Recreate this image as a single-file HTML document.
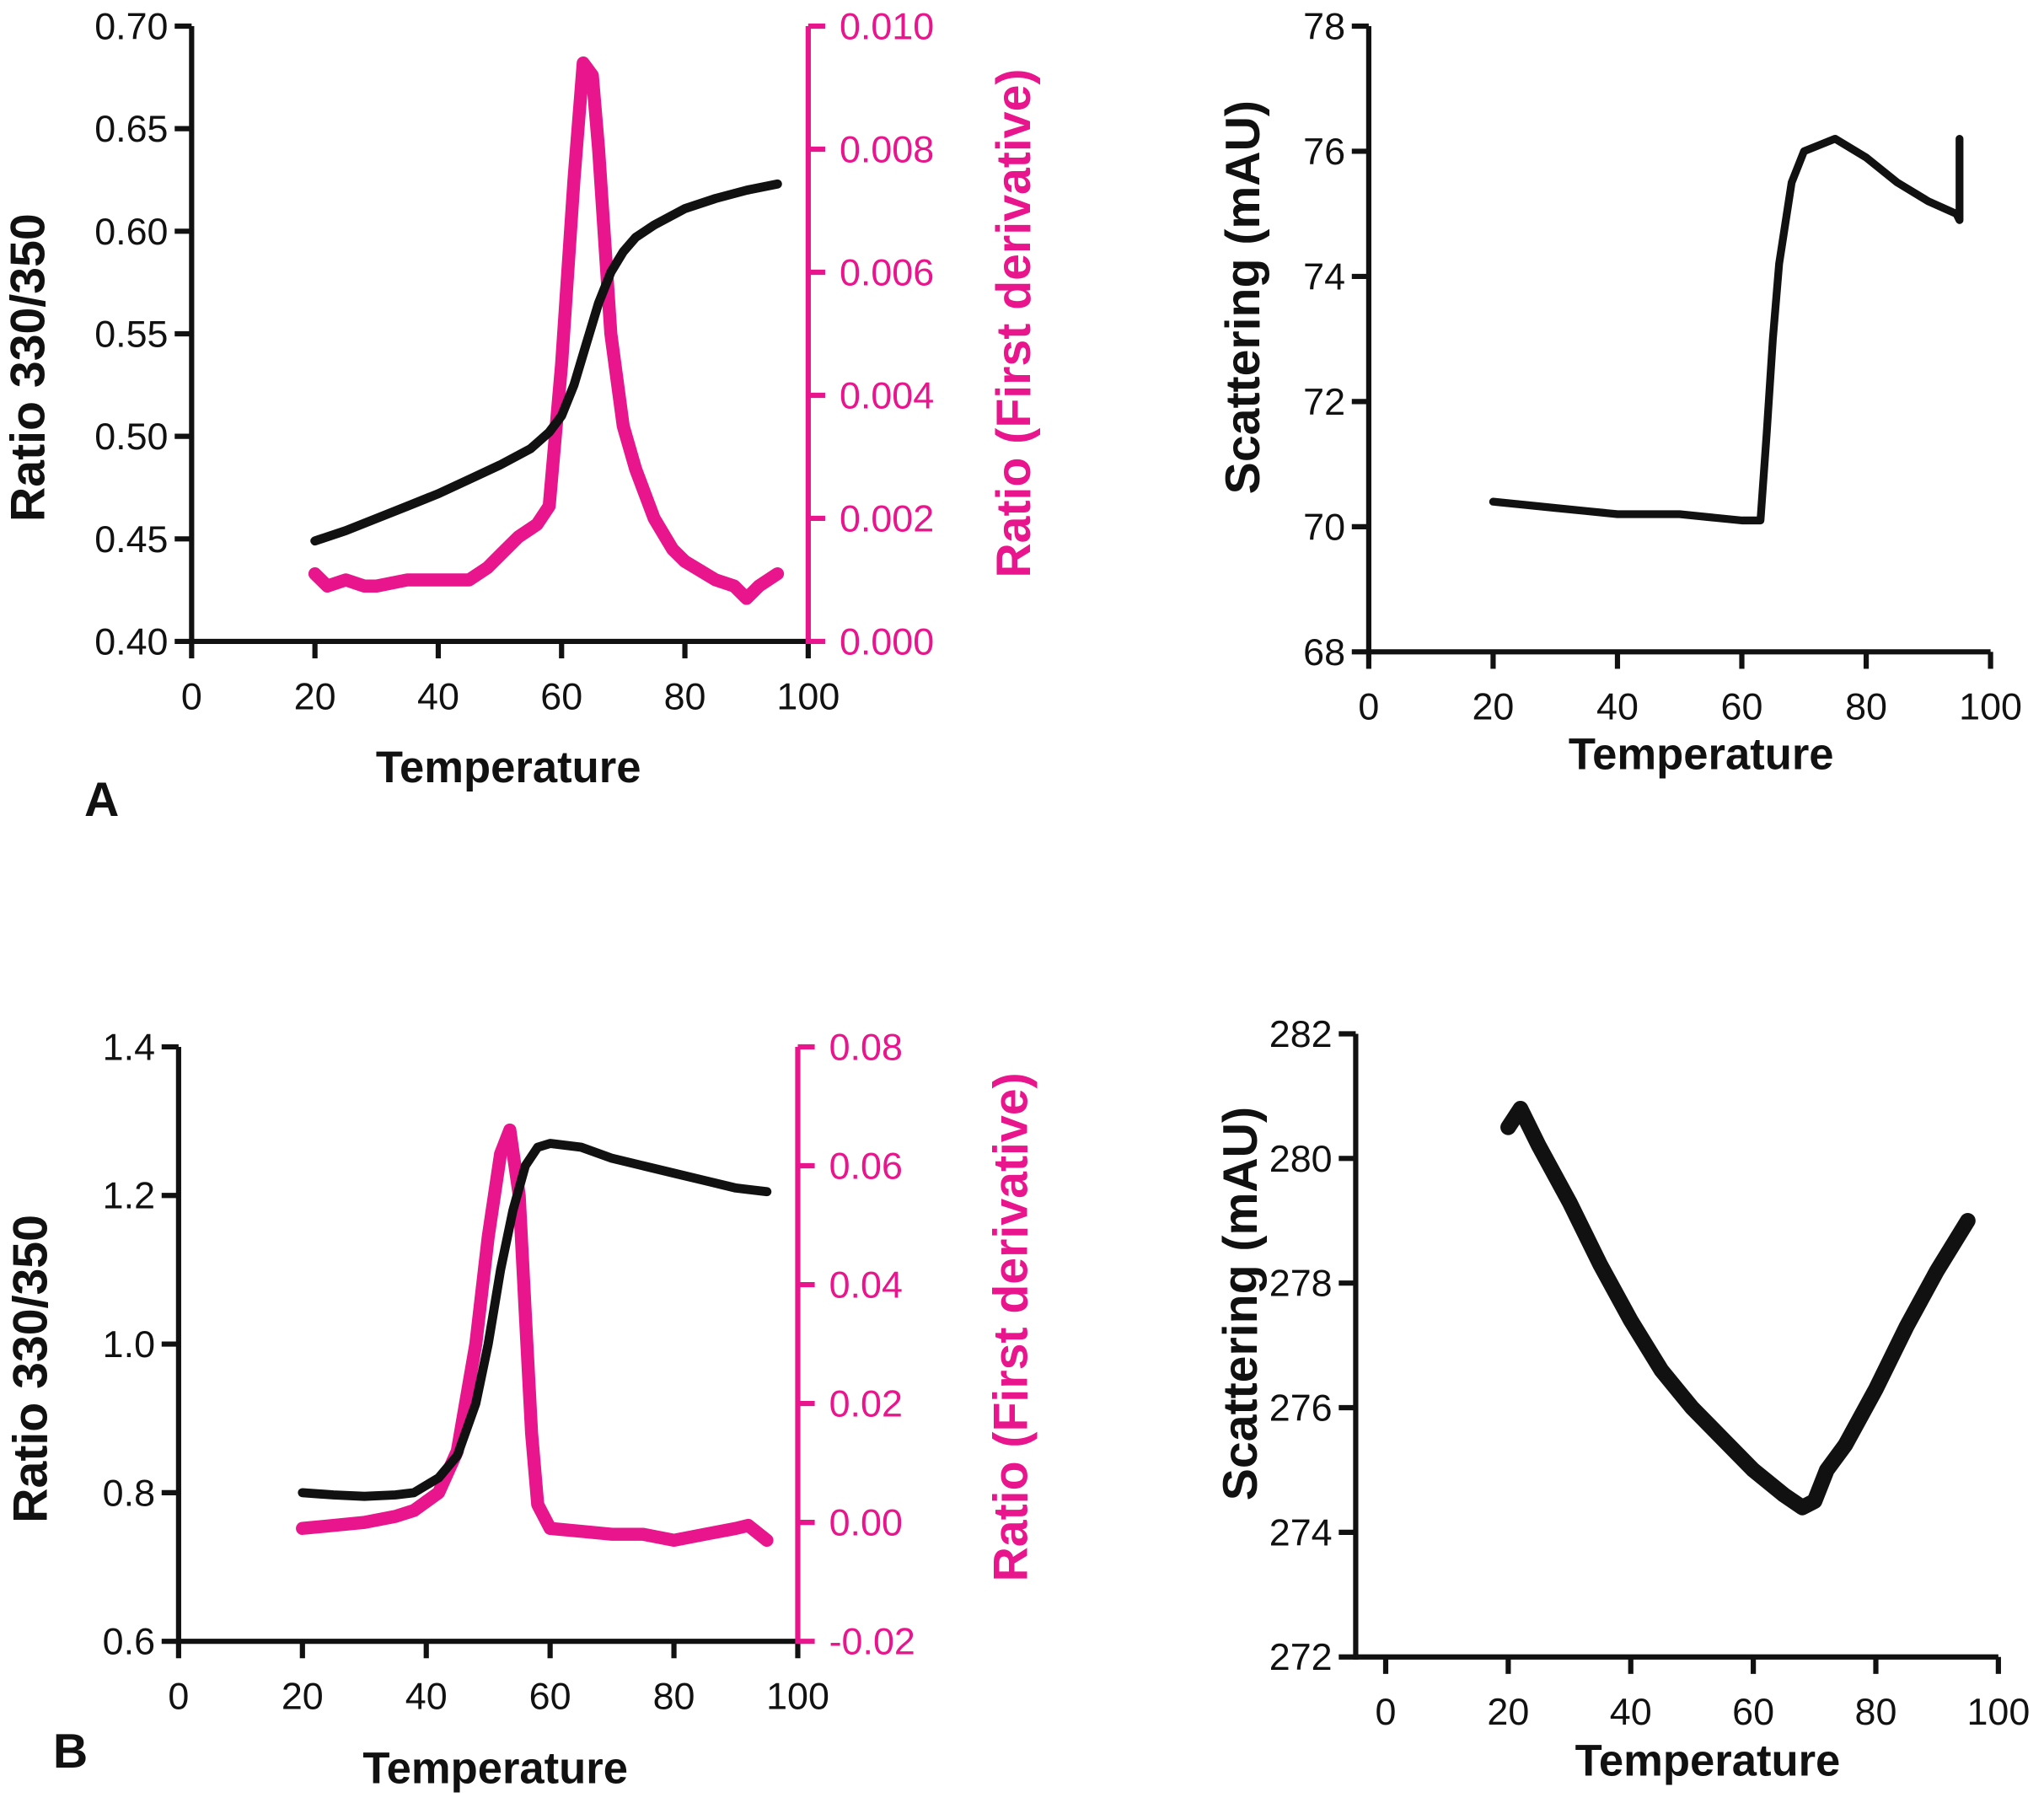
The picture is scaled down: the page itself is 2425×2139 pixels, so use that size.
<!DOCTYPE html>
<html><head><meta charset="utf-8"><style>
html,body{margin:0;padding:0;background:#fff}
svg{display:block}
.tk{font-family:"Liberation Sans Narrow","Liberation Sans",sans-serif;font-size:29px}
.tt{font-family:"Liberation Sans Narrow","Liberation Sans",sans-serif;font-size:34px;font-weight:bold}
.yt{font-family:"Liberation Sans",sans-serif;font-size:37px;font-weight:bold}
</style></head><body>
<svg id="fig" width="2425" height="2139" viewBox="0 0 1568 1383" xmlns="http://www.w3.org/2000/svg"></svg>
<script>
// Panel A, ratio
const aRatioT=[20,25,30,35,40,45,50,55,58,60,62,64,66,68,70,72,75,80,85,90,95];
const aRatioV=[0.449,0.454,0.460,0.466,0.472,0.479,0.486,0.494,0.502,0.510,0.525,0.545,0.565,0.580,0.590,0.597,0.603,0.611,0.616,0.620,0.623];
// Panel A, first derivative
const aDerivT=[20,22,25,28,30,35,40,45,48,50,53,56,58,60,62,63.5,65,66,68,70,72,75,78,80,85,88,90,92,95];
const aDerivV=[0.0011,0.0009,0.0010,0.0009,0.0009,0.0010,0.0010,0.0010,0.0012,0.0014,0.0017,0.0019,0.0022,0.0045,0.0075,0.0094,0.0092,0.0080,0.0050,0.0035,0.0028,0.0020,0.0015,0.0013,0.0010,0.0009,0.0007,0.0009,0.0011];
// Panel A, scattering
const aScatT=[20,25,30,35,40,45,50,55,60,63,64,65,66,68,70,75,80,85,90,94.5,95,95];
const aScatV=[70.4,70.35,70.3,70.25,70.2,70.2,70.2,70.15,70.1,70.1,71.5,73,74.2,75.5,76.0,76.2,75.9,75.5,75.2,75.0,74.9,76.2];
// Panel B, ratio
const bRatioT=[20,25,30,35,38,42,45,48,50,52,54,56,58,60,65,70,75,80,85,90,95];
const bRatioV=[0.800,0.797,0.795,0.797,0.800,0.820,0.850,0.920,1.000,1.100,1.180,1.240,1.265,1.270,1.265,1.250,1.240,1.230,1.220,1.210,1.205];
// Panel B, first derivative
const bDerivT=[20,25,30,35,38,42,45,48,50,52,53.5,55,56,57,58,60,65,70,75,80,85,90,92,95];
const bDerivV=[-0.001,-0.0005,0.0,0.001,0.002,0.005,0.012,0.030,0.048,0.062,0.066,0.055,0.035,0.015,0.003,-0.001,-0.0015,-0.002,-0.002,-0.003,-0.002,-0.001,-0.0005,-0.003];
// Panel B, scattering
const bScatT=[20,22,25,30,35,40,45,50,55,60,65,68,70,72,75,80,85,90,95];
const bScatV=[280.5,280.8,280.2,279.3,278.3,277.4,276.6,276.0,275.5,275.0,274.6,274.4,274.5,275.0,275.4,276.3,277.3,278.2,279.0];
// tick labels
const xTicks=[0,20,40,60,80,100];
const aLeftTicks=[0.40,0.45,0.50,0.55,0.60,0.65,0.70];
const aRightTicks=[0,0.002,0.004,0.006,0.008,0.010];
const aScatTicks=[68,70,72,74,76,78];
const bLeftTicks=[0.6,0.8,1.0,1.2,1.4];
const bRightTicks=[-0.02,0,0.02,0.04,0.06,0.08];
const bScatTicks=[272,274,276,278,280,282];

const NS="http://www.w3.org/2000/svg";
const svg=document.getElementById('fig');
function mk(tag,attrs,parent){const e=document.createElementNS(NS,tag);for(const k in attrs)e.setAttribute(k,attrs[k]);(parent||svg).appendChild(e);return e;}
function lin(d0,d1,r0,r1){return v=>r0+(v-d0)*(r1-r0)/(d1-d0);}
const PINK="#e8158c";

function xAxis(g,sx,y,x0,x1,name){
  const ax=mk('line',{x1:x0,y1:y,x2:x1,y2:y,stroke:'#111','stroke-width':4},g);
  
  
  xTicks.forEach(t=>{
    const tk=mk('line',{x1:sx(t),y1:y,x2:sx(t),y2:y+13,stroke:'#111','stroke-width':4},g);
    
    
    const tl=mk('text',{x:sx(t),y:y+52,'text-anchor':'middle',class:'tk',fill:'#111'},g);
    tl.textContent=String(t);
    
    
  });
}
function yAxis(g,sy,x,ticks,fmt,side,color,name){
  const y0=sy(ticks[0]),y1=sy(ticks[ticks.length-1]);
  const ax=mk('line',{x1:x,y1:y0+2,x2:x,y2:y1,stroke:color,'stroke-width':4},g);
  
  
  ticks.forEach(t=>{
    const dx=side==='left'?-13:13;
    const tk=mk('line',{x1:x,y1:sy(t),x2:x+dx,y2:sy(t),stroke:color,'stroke-width':4},g);
    
    
    const tl=mk('text',{x:side==='left'?x-18:x+24,y:sy(t)+10,'text-anchor':side==='left'?'end':'start',class:'tk',fill:color},g);
    tl.textContent=fmt(t);
    
    
  });
}
function series(g,T,V,sx,sy,color,w,name){
  const d=T.map((t,i)=>(i?'L':'M')+sx(t).toFixed(1)+' '+sy(V[i]).toFixed(1)).join(' ');
  const p=mk('path',{d:d,fill:'none',stroke:color,'stroke-width':w,'stroke-linejoin':'round','stroke-linecap':'round'},g);
  
  
}
function text(g,x,y,s,cls,color,rot,name){
  const t=mk('text',{x:x,y:y,class:cls,fill:color,'text-anchor':'middle'},g);
  if(rot)t.setAttribute('transform','rotate(-90 '+x+' '+y+')');
  t.textContent=s;
  
  
}

// Panel A left
let g=mk('g',{});


let sx=lin(0,100,147,620), sy=lin(0.40,0.70,492,20), sy2=lin(0,0.010,492,20);
series(g,aDerivT,aDerivV,sx,sy2,PINK,10,'first-derivative-line');
series(g,aRatioT,aRatioV,sx,sy,'#111',7,'ratio-line');
xAxis(g,sx,492,147,620,'panel-a');
yAxis(g,sy,147,aLeftTicks,v=>v.toFixed(2),'left','#111','left-y-axis');
yAxis(g,sy2,620,aRightTicks,v=>v.toFixed(3),'right',PINK,'right-y-axis');
text(g,390,600,'Temperature','tt','#111',false,'x-axis-title');
text(g,34,282,'Ratio 330/350','yt','#111',true,'y-axis-title');
text(g,790,248,'Ratio (First derivative)','yt',PINK,true,'y2-axis-title');
text(g,78,626,'A','yt','#111',false,'panel-label-a');

// Panel A right
g=mk('g',{});


sx=lin(0,100,1050,1527); sy=lin(68,78,500,20);
series(g,aScatT,aScatV,sx,sy,'#111',6,'scattering-line');
xAxis(g,sx,500,1050,1527,'panel-a-scatter');
yAxis(g,sy,1050,aScatTicks,v=>String(v),'left','#111','scattering-y-axis');
text(g,1305,590,'Temperature','tt','#111',false,'x-axis-title');
text(g,966,228,'Scattering (mAU)','yt','#111',true,'y-axis-title');

// Panel B left
g=mk('g',{});


sx=lin(0,100,137,612); sy=lin(0.6,1.4,1259,803); sy2=lin(-0.02,0.08,1259,803);
series(g,bDerivT,bDerivV,sx,sy2,PINK,10,'first-derivative-line');
series(g,bRatioT,bRatioV,sx,sy,'#111',7,'ratio-line');
xAxis(g,sx,1259,137,612,'panel-b');
yAxis(g,sy,137,bLeftTicks,v=>v.toFixed(1),'left','#111','left-y-axis');
yAxis(g,sy2,612,bRightTicks,v=>v.toFixed(2),'right',PINK,'right-y-axis');
text(g,380,1368,'Temperature','tt','#111',false,'x-axis-title');
text(g,36,1050,'Ratio 330/350','yt','#111',true,'y-axis-title');
text(g,788,1018,'Ratio (First derivative)','yt',PINK,true,'y2-axis-title');
text(g,54,1356,'B','yt','#111',false,'panel-label-b');

// Panel B right
g=mk('g',{});


sx=lin(0,100,1063,1533); sy=lin(272,282,1271,793);
series(g,bScatT,bScatV,sx,sy,'#111',12,'scattering-line');
xAxis(g,sx,1271,1040,1533,'panel-b-scatter');
yAxis(g,sy,1040,bScatTicks,v=>String(v),'left','#111','scattering-y-axis');
text(g,1310,1362,'Temperature','tt','#111',false,'x-axis-title');
text(g,964,1000,'Scattering (mAU)','yt','#111',true,'y-axis-title');
</script>
</body></html>
